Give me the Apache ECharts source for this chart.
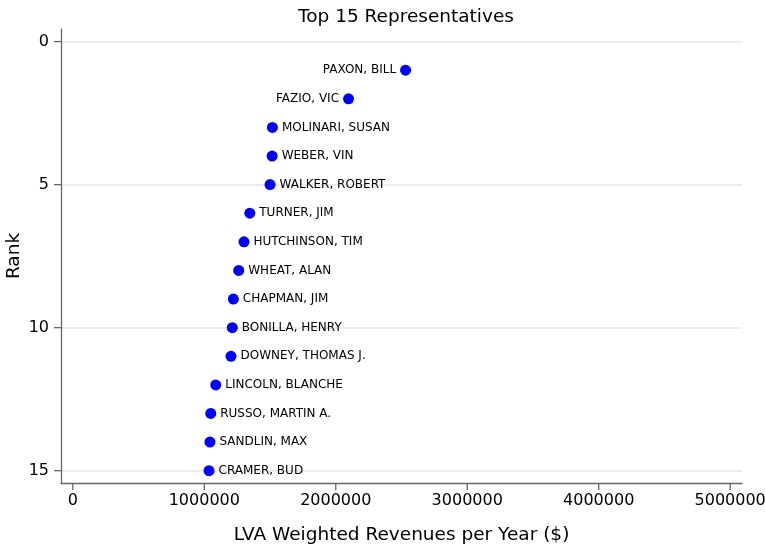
<!DOCTYPE html>
<html><head><meta charset="utf-8">
<script src="https://cdn.jsdelivr.net/npm/echarts@6/dist/echarts.min.js"></script>
<style>html,body{margin:0;padding:0;background:#fff}#c{width:765px;height:546px}</style>
</head><body><div id="c"></div>
<script>
var names = ["PAXON, BILL","FAZIO, VIC","MOLINARI, SUSAN","WEBER, VIN","WALKER, ROBERT","TURNER, JIM","HUTCHINSON, TIM","WHEAT, ALAN","CHAPMAN, JIM","BONILLA, HENRY","DOWNEY, THOMAS J.","LINCOLN, BLANCHE","RUSSO, MARTIN A.","SANDLIN, MAX","CRAMER, BUD"];
var ranks = [1,2,3,4,5,6,7,8,9,10,11,12,13,14,15];
var revenues = [2531000,2097000,1518000,1516000,1500000,1346000,1302000,1262000,1221000,1213000,1203000,1087000,1049000,1043000,1036000];
var leftLabeled = ["PAXON, BILL","FAZIO, VIC"];
var xTicks = [0,1000000,2000000,3000000,4000000,5000000];
var yTicks = [0,5,10,15];

var font = "DejaVu Sans";
var X_MIN = -90000, X_MAX = 5090000, Y_MIN = -0.44, Y_MAX = 15.43;
var tickLen = 7, tickColor = '#666', tickWidth = 1.3;

var data = names.map(function(n,i){
  var item = {value:[revenues[i], ranks[i]], name:n};
  if (leftLabeled.indexOf(n) >= 0) item.label = {position:'left'};
  return item;
});
var chart = echarts.init(document.getElementById('c'), null, {renderer:'canvas'});
chart.setOption({
  animation:false,
  title:{text:"Top 15 Representatives", left:401, textAlign:'center', top:3,
    textStyle:{fontFamily:font, fontSize:18.5, fontWeight:'normal', color:'#000'}},
  grid:{left:61, right:23, top:29, bottom:63, containLabel:false, outerBoundsMode:'none'},
  xAxis:{type:'value', position:'bottom', min:X_MIN, max:X_MAX,
    name:"LVA Weighted Revenues per Year ($)", nameLocation:'middle', nameGap:43, nameMoveOverlap:false,
    nameTextStyle:{fontFamily:font, fontSize:18.5, color:'#000'},
    axisLine:{show:true, onZero:false, lineStyle:{color:tickColor, width:tickWidth}},
    axisTick:{show:false},
    axisLabel:{customValues:xTicks, fontFamily:font, fontSize:16, color:'#000', margin:10,
      formatter:function(v){return String(v);}},
    splitLine:{show:false}},
  yAxis:{type:'value', position:'left', inverse:true, min:Y_MIN, max:Y_MAX,
    name:"Rank", nameLocation:'middle', nameGap:37, nameMoveOverlap:false,
    nameTextStyle:{fontFamily:font, fontSize:18.5, color:'#000'},
    axisLine:{show:true, onZero:false, lineStyle:{color:tickColor, width:tickWidth}},
    axisTick:{show:false},
    axisLabel:{customValues:yTicks, fontFamily:font, fontSize:16, color:'#000', margin:12},
    splitLine:{show:false}},
  series:[{
    type:'scatter', symbol:'circle', symbolSize:11,
    itemStyle:{color:'#0000ff', opacity:1},
    label:{show:true, position:'right', distance:4, formatter:'{b}',
      fontFamily:font, fontSize:12, color:'#000', opacity:1},
    data:data, z:3,
    markLine:{silent:true, symbol:['none','none'], label:{show:false},
      lineStyle:{color:'#e6e6e6', type:'solid', width:1.5, opacity:1},
      data:yTicks.map(function(t){return {yAxis:t};}),
      z:0}
  },{
    type:'custom', silent:true, clip:false, z:4,
    data:xTicks.map(function(t){return [t];}),
    encode:{x:0},
    renderItem:function(params, api){
      var p = api.coord([api.value(0), Y_MAX]);
      return {type:'line', shape:{x1:p[0], y1:p[1], x2:p[0], y2:p[1]+tickLen},
        style:{stroke:tickColor, lineWidth:tickWidth}};
    }
  },{
    type:'custom', silent:true, clip:false, z:4,
    data:yTicks.map(function(t){return [X_MIN, t];}),
    encode:{x:0, y:1},
    renderItem:function(params, api){
      var p = api.coord([X_MIN, api.value(1)]);
      return {type:'line', shape:{x1:p[0]-tickLen, y1:p[1], x2:p[0], y2:p[1]},
        style:{stroke:tickColor, lineWidth:tickWidth}};
    }
  }]
});
</script></body></html>
